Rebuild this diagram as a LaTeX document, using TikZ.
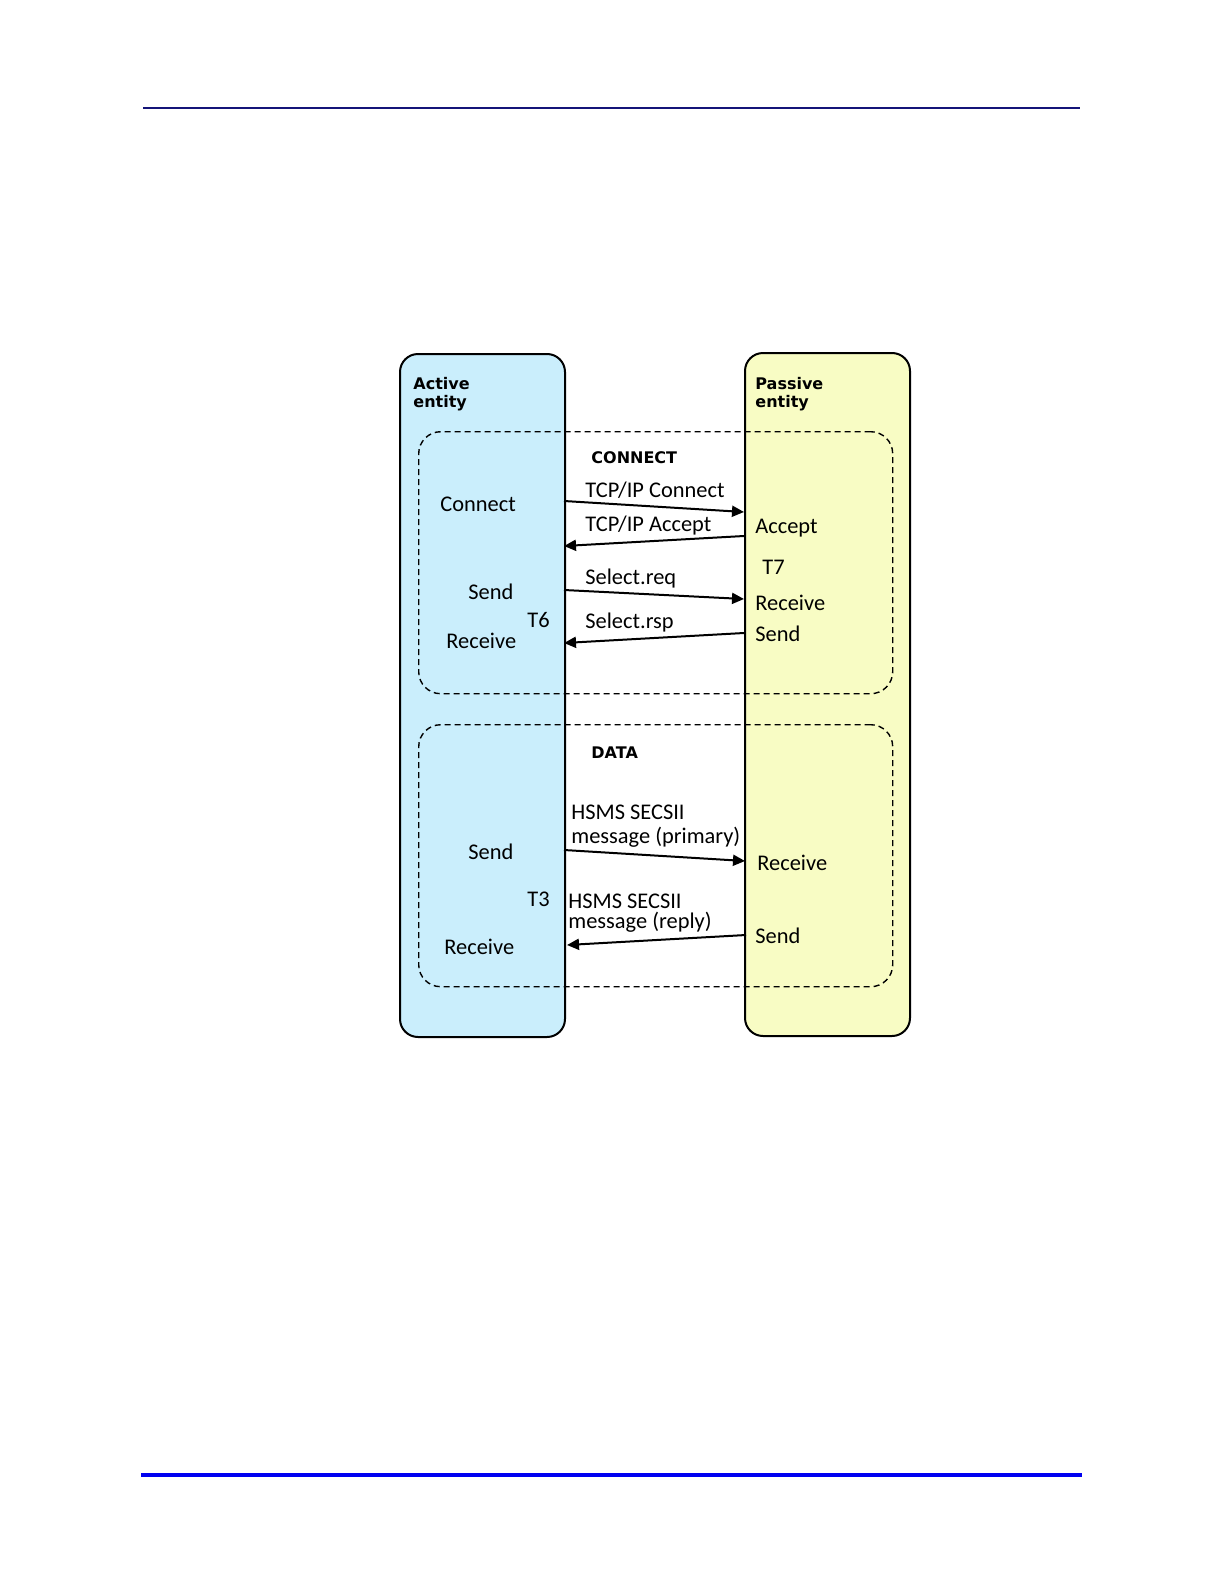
\documentclass[tikz,border=0pt]{standalone}
\usepackage{fontspec}
\setmainfont{Carlito}
\newfontfamily\boldfont{DejaVu Sans}
\usetikzlibrary{arrows.meta}
\definecolor{activefill}{RGB}{202,238,252}
\definecolor{passivefill}{RGB}{248,252,196}
\definecolor{topline}{RGB}{20,20,120}
\definecolor{botline}{RGB}{0,0,240}
\tikzset{
  lane/.style={draw=black, line width=1pt, rounded corners=9pt},
  phase/.style={draw=black, line width=0.7pt, dash pattern=on 3pt off 2pt, rounded corners=11pt},
  lbl/.style={font=\fontsize{11.2}{12}\selectfont, anchor=west, inner sep=0pt},
  hdr/.style={font=\boldfont\bfseries\fontsize{8}{9.5}\selectfont, anchor=west, inner sep=0pt},
  msg/.style={line width=1pt, -{Triangle[length=6pt,width=5.5pt]}}
}
\begin{document}
\begin{tikzpicture}[x=0.5pt,y=-0.5pt]
\useasboundingbox (0,0) rectangle (1224,1584);
% page rules
\draw[topline, line width=0.6pt] (143,108) coordinate (tl1) -- (1080,108) coordinate (tl2);
\draw[botline, line width=2pt] (141,1475) coordinate (bl1) -- (1082,1475) coordinate (bl2);
% lanes
\node[lane, fill=activefill, minimum width=82.5pt, minimum height=341.5pt, anchor=north west, inner sep=0pt] (active) at (399,353) {};
\node[lane, fill=passivefill, minimum width=82.5pt, minimum height=341.5pt, anchor=north west, inner sep=0pt] (passive) at (744,352) {};
% phases
\node[phase, minimum width=237pt, minimum height=131pt, anchor=north west, inner sep=0pt] (connbox) at (418,431) {};
\node[phase, minimum width=237pt, minimum height=131pt, anchor=north west, inner sep=0pt] (databox) at (418,724) {};
% headers
\node[hdr] (acttitle) at (413,384) {Active};
\node[hdr] (acttitle2) at (413,403) {entity};
\node[hdr] (pastitle) at (755,384) {Passive};
\node[hdr] (pastitle2) at (755,403) {entity};
\node[hdr] (connect) at (591,458) {CONNECT};
\node[hdr] (data) at (591,753) {DATA};
% left labels
\node[lbl] (lconnect) at (440,504) {Connect};
\node[lbl] (lsend1) at (468,592) {Send};
\node[lbl] (t6) at (527,620) {T6};
\node[lbl] (lrecv1) at (446,641) {Receive};
\node[lbl] (lsend2) at (468,852) {Send};
\node[lbl] (t3) at (527,899) {T3};
\node[lbl] (lrecv2) at (444,947) {Receive};
% right labels
\node[lbl] (raccept) at (755,528) {Accept};
\node[lbl] (t7) at (762,567) {T7};
\node[lbl] (rrecv1) at (755,603) {Receive};
\node[lbl] (rsend1) at (755,634) {Send};
\node[lbl] (rrecv2) at (757,863) {Receive};
\node[lbl] (rsend2) at (755,936) {Send};
% message labels
\node[lbl] (m1) at (585,490) {TCP/IP Connect};
\node[lbl] (m2) at (585,526) {TCP/IP Accept};
\node[lbl] (m3) at (585,579) {Select.req};
\node[lbl] (m4) at (585,623) {Select.rsp};
\node[lbl, align=left, font=\fontsize{11.2}{12}\selectfont] (m5) at (571,826) {HSMS SECSII\\message (primary)};
\node[lbl, align=left, font=\fontsize{11.2}{10.2}\selectfont] (m6) at (568,913) {HSMS SECSII\\message (reply)};
% arrow endpoints
\coordinate (a1s) at (564,501); \coordinate (a1e) at (744,512);
\coordinate (a2s) at (744,536); \coordinate (a2e) at (564,546);
\coordinate (a3s) at (564,590); \coordinate (a3e) at (744,599);
\coordinate (a4s) at (744,633); \coordinate (a4e) at (564,643);
\coordinate (a5s) at (564,850); \coordinate (a5e) at (745,861);
\coordinate (a6s) at (746,935); \coordinate (a6e) at (567,945);
\draw[msg] (a1s) -- (a1e);
\draw[msg] (a2s) -- (a2e);
\draw[msg] (a3s) -- (a3e);
\draw[msg] (a4s) -- (a4e);
\draw[msg] (a5s) -- (a5e);
\draw[msg] (a6s) -- (a6e);
\end{tikzpicture}
\end{document}
